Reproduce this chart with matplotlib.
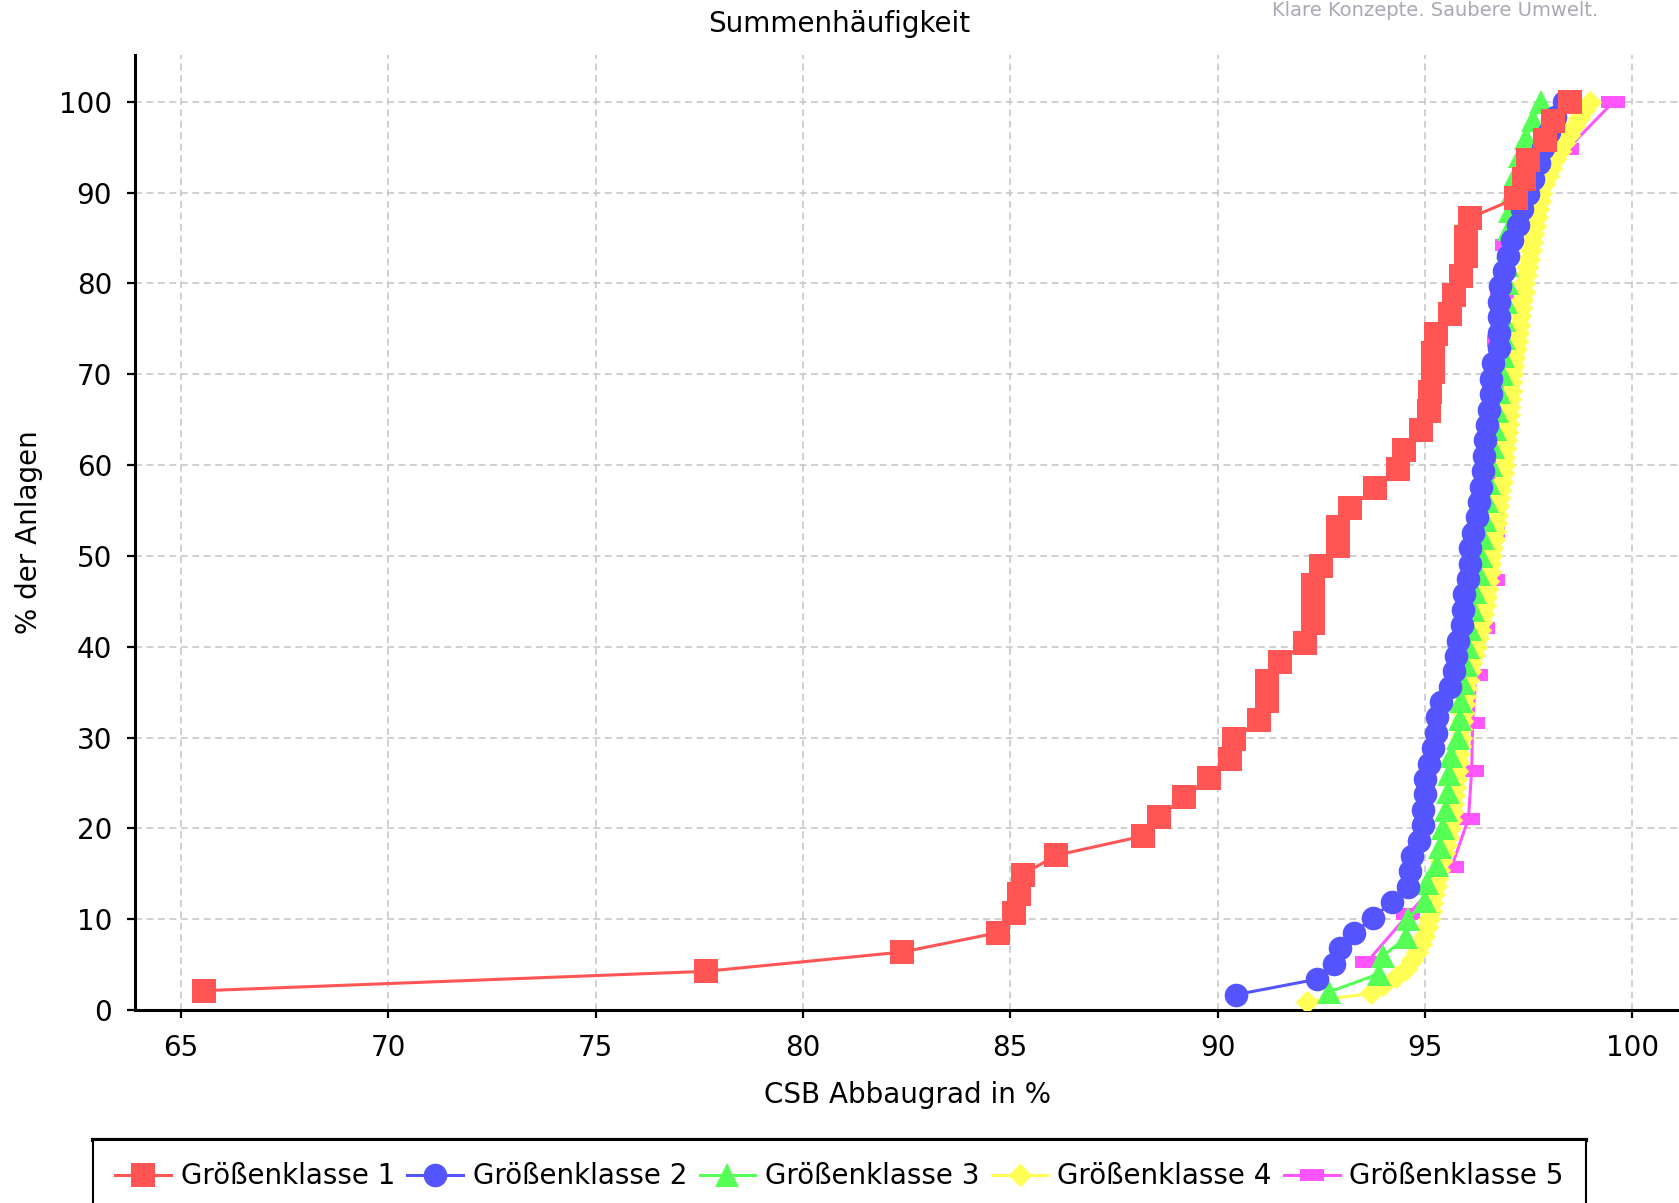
import numpy as np
import matplotlib
matplotlib.use("Agg")
import matplotlib.pyplot as plt
from matplotlib.path import Path
from matplotlib.lines import Line2D

plt.rcParams['font.family'] = ['DejaVu Sans']

# ---------------- data ----------------
title = "Summenhäufigkeit"
xlabel = "CSB Abbaugrad in %"
ylabel = "% der Anlagen"
watermark = "Klare Konzepte. Saubere Umwelt."
series_names = ["Größenklasse 1", "Größenklasse 2", "Größenklasse 3",
                "Größenklasse 4", "Größenklasse 5"]
x_ticks = [65, 70, 75, 80, 85, 90, 95, 100]
y_ticks = [0, 10, 20, 30, 40, 50, 60, 70, 80, 90, 100]

# CSB Abbaugrad (%) of the plants per size class
gk1 = [65.55, 77.65, 82.4, 84.7, 85.1, 85.2, 85.3, 86.1, 88.2, 88.6, 89.2, 89.8,
       90.3, 90.4, 91.0, 91.2, 91.2, 91.5, 92.1, 92.3, 92.3, 92.3, 92.5, 92.9,
       92.9, 93.2, 93.8, 94.35, 94.5, 94.9, 95.1, 95.12, 95.2, 95.2, 95.28, 95.6,
       95.7, 95.88, 96.0, 96.0, 96.1, 97.2, 97.4, 97.5, 97.9, 98.1, 98.5]

gk2 = [90.45, 92.4, 92.8, 92.95, 93.3, 93.75, 94.2, 94.6, 94.65, 94.7, 94.85,
       94.95, 94.95, 95.0, 95.0, 95.1, 95.2, 95.28, 95.3, 95.4, 95.6, 95.7,
       95.75, 95.8, 95.9, 95.92, 95.95, 96.05, 96.1, 96.1, 96.15, 96.25, 96.3,
       96.35, 96.4, 96.42, 96.45, 96.5, 96.55, 96.6, 96.6, 96.65, 96.8, 96.8,
       96.8, 96.8, 96.82, 96.9, 97.0, 97.1, 97.25, 97.35, 97.5, 97.6, 97.75,
       97.85, 98.0, 98.15, 98.35]

gk3 = [92.7, 93.9, 94.0, 94.55, 94.6, 95.0, 95.05, 95.3, 95.36, 95.44, 95.52,
       95.56, 95.58, 95.64, 95.8, 95.84, 95.88, 95.92, 96.0, 96.05, 96.1, 96.15,
       96.2, 96.3, 96.35, 96.4, 96.45, 96.5, 96.55, 96.6, 96.65, 96.7, 96.75,
       96.8, 96.85, 96.88, 96.9, 96.92, 96.95, 96.97, 96.98, 97.0, 97.02, 97.05,
       97.1, 97.2, 97.3, 97.45, 97.6, 97.8]

gk4 = [92.15, 93.7, 94.0, 94.3, 94.55, 94.7, 94.8, 94.9, 94.97, 95.05, 95.1,
       95.14, 95.18, 95.22, 95.26, 95.3, 95.35, 95.4, 95.45, 95.5, 95.55, 95.6,
       95.62, 95.65, 95.68, 95.7, 95.73, 95.75, 95.77, 95.8, 95.82, 95.84, 95.86,
       95.88, 95.9, 95.92, 95.95, 95.97, 96.0, 96.04, 96.08, 96.12, 96.18, 96.24,
       96.28, 96.32, 96.36, 96.4, 96.44, 96.47, 96.5, 96.53, 96.56, 96.58, 96.6,
       96.63, 96.66, 96.69, 96.72, 96.74, 96.76, 96.79, 96.82, 96.85, 96.88,
       96.9, 96.92, 96.94, 96.96, 96.98, 97.0, 97.02, 97.04, 97.06, 97.08, 97.09,
       97.1, 97.13, 97.16, 97.19, 97.22, 97.24, 97.26, 97.29, 97.32, 97.35,
       97.38, 97.4, 97.43, 97.47, 97.51, 97.55, 97.58, 97.62, 97.66, 97.7,
       97.74, 97.77, 97.8, 97.88, 97.96, 98.05, 98.15, 98.25, 98.35, 98.47,
       98.6, 98.72, 98.85, 98.98]

gk5 = [93.6, 94.6, 95.65, 96.05, 96.13, 96.15, 96.23, 96.4, 96.64, 96.65, 96.7,
       96.72, 96.75, 96.78, 96.85, 96.97, 97.6, 98.43, 99.55]

series_values = [gk1, gk2, gk3, gk4, gk5]
colors = ['#FF5555', '#5555FF', '#55FF55', '#FFFF55', '#FF55FF']


def cumulative(values):
    v = np.sort(np.asarray(values, dtype=float))
    return v, np.arange(1, len(v) + 1) / len(v) * 100.0


# ---------------- markers ----------------
diamond = Path([(0, 1), (1, 0), (0, -1), (-1, 0), (0, 1)],
               [Path.MOVETO, Path.LINETO, Path.LINETO, Path.LINETO, Path.CLOSEPOLY])
hrect = Path([(-1, -0.5), (1, -0.5), (1, 0.5), (-1, 0.5), (-1, -0.5)],
             [Path.MOVETO, Path.LINETO, Path.LINETO, Path.LINETO, Path.CLOSEPOLY])
markers = ['s', 'o', '^', diamond, hrect]

# ---------------- figure ----------------
W, H = 1679, 1203
fig = plt.figure(figsize=(W / 100, H / 100), dpi=100)
ax_left, ax_right, ax_top, ax_bottom = 135, 1679, 55, 1010
ax = fig.add_axes([ax_left / W, 1 - ax_bottom / H,
                   (ax_right - ax_left) / W, (ax_bottom - ax_top) / H])

ms = 17
handles = [None] * 5
for i in reversed(range(5)):
    xs, ys = cumulative(series_values[i])
    ln, = ax.plot(xs, ys, color=colors[i], linewidth=2.2, marker=markers[i],
                  markersize=ms, markeredgewidth=0, markerfacecolor=colors[i],
                  zorder=3 + (5 - i))
    handles[i] = ln

ax.set_xlim(63.89, 101.13)
ax.set_ylim(0, 105.14)
ax.set_xticks(x_ticks)
ax.set_yticks(y_ticks)
ax.set_xticklabels([str(t) for t in x_ticks])
ax.set_yticklabels([str(t) for t in y_ticks])

ax.grid(True, color='#C4C4C4', linestyle=(0, (4.5, 3)), linewidth=1.1)
ax.set_axisbelow(True)

for s in ['top', 'right']:
    ax.spines[s].set_visible(False)
for s in ['left', 'bottom']:
    ax.spines[s].set_linewidth(2.2)
    ax.spines[s].set_color('black')

ax.tick_params(axis='both', direction='out', length=6, width=1.6,
               labelsize=20, colors='black')
ax.tick_params(axis='x', pad=11.5)
ax.tick_params(axis='y', pad=10.5)

ax.set_xlabel(xlabel, fontsize=20)
ax.xaxis.label.set_va('center')
ax.xaxis.set_label_coords(0.5, (ax_bottom - 1095) / (ax_bottom - ax_top))
ax.set_ylabel(ylabel, fontsize=20)
ax.yaxis.label.set_va('center')
ax.yaxis.set_label_coords((29 - ax_left) / (ax_right - ax_left), 0.5)

fig.text(0.5, 1 - 24 / H, title, ha='center', va='center', fontsize=20)
fig.text(1272 / W, 1 - 1 / H, watermark, ha='left', va='top',
         fontsize=14, color='#A9A9B3')

leg = fig.legend(handles, series_names, loc='upper center',
                 bbox_to_anchor=(0.5, 1 - 1140 / H), ncol=5, frameon=True,
                 fancybox=False, edgecolor='black', fontsize=20,
                 handlelength=2.0, handletextpad=0.35, columnspacing=0.45,
                 borderpad=0.8, borderaxespad=0)
leg.get_frame().set_linewidth(1.5)
leg.get_frame().set_facecolor('white')
leg.get_frame().set_alpha(1)

fig.canvas.draw()
bb = leg.get_window_extent().transformed(fig.transFigure.inverted())
fig.add_artist(Line2D([bb.x0, bb.x1], [bb.y1, bb.y1], color='black',
                      linewidth=3.0, transform=fig.transFigure))

fig.savefig("out.png", dpi=100)
